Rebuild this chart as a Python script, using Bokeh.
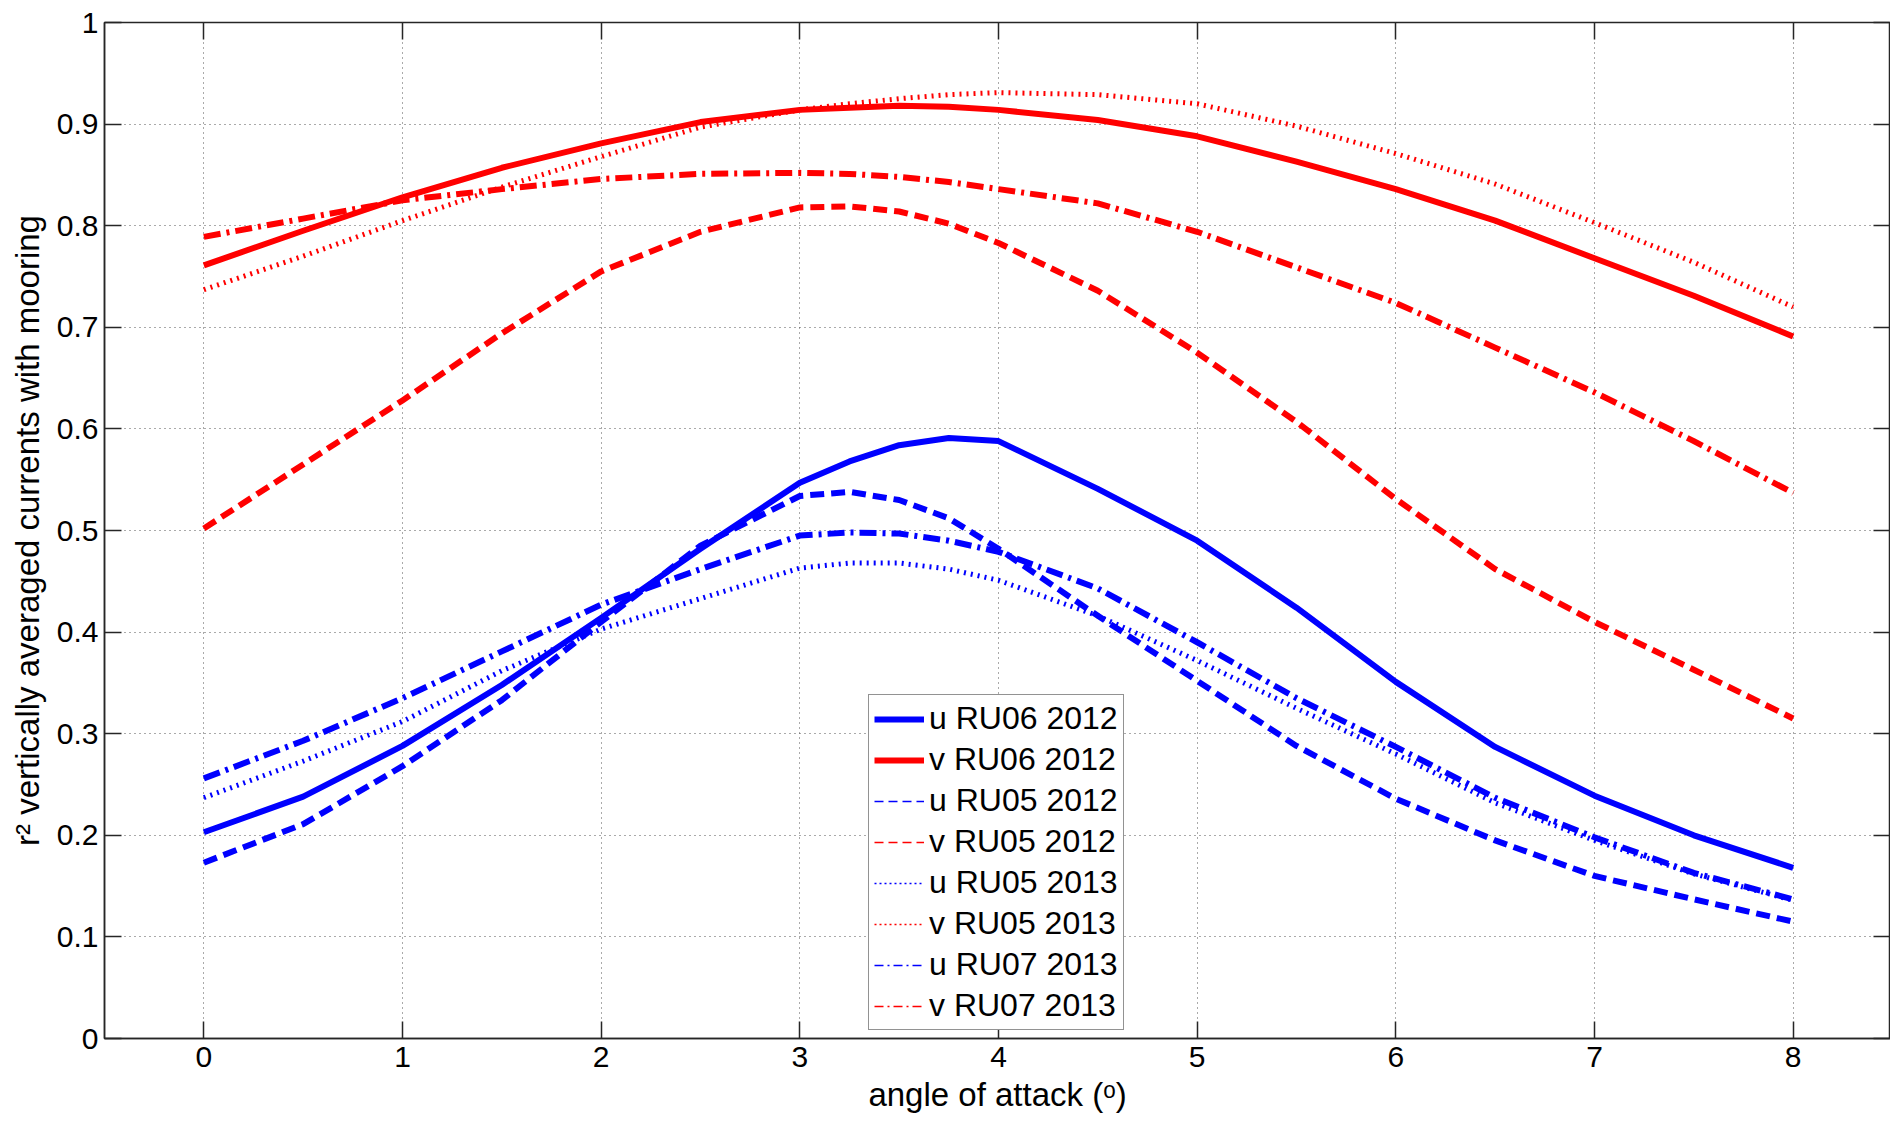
from bokeh.plotting import figure
from bokeh.models import (Range1d, FixedTicker, LinearAxis, Legend, LegendItem,
                          ColumnDataSource, CDSView, IndexFilter)
from bokeh.embed import file_html
from bokeh.resources import INLINE

# ---------------- data ----------------
angle = [0, 0.5, 1, 1.5, 2, 2.5, 3, 3.25, 3.5, 3.75, 4, 4.5, 5, 5.5, 6, 6.5, 7, 7.5, 8]

u_ru06_2012 = [0.203, 0.238, 0.288, 0.348, 0.414, 0.482, 0.547, 0.568, 0.584, 0.591, 0.588, 0.541, 0.490, 0.424, 0.351, 0.287, 0.239, 0.200, 0.168]
v_ru06_2012 = [0.761, 0.795, 0.828, 0.857, 0.881, 0.902, 0.914, 0.916, 0.918, 0.917, 0.914, 0.904, 0.888, 0.863, 0.836, 0.805, 0.768, 0.731, 0.691]
u_ru05_2012 = [0.173, 0.211, 0.268, 0.333, 0.410, 0.485, 0.534, 0.538, 0.530, 0.512, 0.482, 0.416, 0.352, 0.288, 0.236, 0.195, 0.160, 0.137, 0.115]
v_ru05_2012 = [0.502, 0.565, 0.628, 0.694, 0.755, 0.794, 0.818, 0.819, 0.814, 0.802, 0.783, 0.736, 0.675, 0.607, 0.531, 0.462, 0.410, 0.363, 0.315]
u_ru05_2013 = [0.237, 0.273, 0.312, 0.362, 0.403, 0.433, 0.463, 0.468, 0.468, 0.462, 0.451, 0.416, 0.372, 0.325, 0.280, 0.232, 0.195, 0.162, 0.136]
v_ru05_2013 = [0.737, 0.770, 0.805, 0.838, 0.868, 0.897, 0.914, 0.920, 0.925, 0.929, 0.931, 0.929, 0.920, 0.898, 0.871, 0.841, 0.803, 0.764, 0.720]
u_ru07_2013 = [0.256, 0.293, 0.335, 0.381, 0.427, 0.462, 0.495, 0.498, 0.497, 0.490, 0.479, 0.443, 0.390, 0.335, 0.287, 0.237, 0.198, 0.163, 0.137]
v_ru07_2013 = [0.789, 0.807, 0.825, 0.836, 0.846, 0.851, 0.852, 0.851, 0.848, 0.843, 0.836, 0.822, 0.794, 0.759, 0.724, 0.680, 0.636, 0.588, 0.537]

series_labels = ["u RU06 2012", "v RU06 2012", "u RU05 2012", "v RU05 2012",
                 "u RU05 2013", "v RU05 2013", "u RU07 2013", "v RU07 2013"]
series_values = [u_ru06_2012, v_ru06_2012, u_ru05_2012, v_ru05_2012,
                 u_ru05_2013, v_ru05_2013, u_ru07_2013, v_ru07_2013]

x_ticks = [0, 1, 2, 3, 4, 5, 6, 7, 8]
y_ticks = [0, 0.1, 0.2, 0.3, 0.4, 0.5, 0.6, 0.7, 0.8, 0.9, 1]
y_tick_labels = ["0", "0.1", "0.2", "0.3", "0.4", "0.5", "0.6", "0.7", "0.8", "0.9", "1"]

x_label = "angle of attack (\u1d52)"
y_label = "r\u00b2 vertically averaged currents with mooring"

# ---------------- styles ----------------
BLUE = "#0000ff"
RED = "#ff0000"
FONT = "Liberation Sans"
AX = "#262626"

# (color, width, dash) for the plotted curves
plot_styles = [
    (BLUE, 6, "solid"), (RED, 6, "solid"),
    (BLUE, 6, "14 7"), (RED, 6, "14 7"),
    (BLUE, 5, "2 5"), (RED, 5, "2 5"),
    (BLUE, 6, "17 6 3 6"), (RED, 6, "17 6 3 6"),
]
# (color, width, dash) for the legend samples
legend_styles = [
    (BLUE, 6, "solid"), (RED, 6, "solid"),
    (BLUE, 1.5, "9 5"), (RED, 1.5, "9 5"),
    (BLUE, 1.5, "2 3"), (RED, 1.5, "2 3"),
    (BLUE, 1.5, "9 4 2 4"), (RED, 1.5, "9 4 2 4"),
]

p = figure(width=1890, height=1125, output_backend="svg", toolbar_location=None,
           x_range=Range1d(-0.5, 8.49), y_range=Range1d(0, 1),
           min_border_left=104, min_border_right=0, min_border_top=22, min_border_bottom=87)
p.background_fill_color = "white"
p.border_fill_color = "white"
p.outline_line_color = AX
p.outline_line_width = 1.5

# grids
p.xgrid.ticker = FixedTicker(ticks=x_ticks)
p.ygrid.ticker = FixedTicker(ticks=y_ticks)
for g in (p.xgrid, p.ygrid):
    g.grid_line_color = "#555555"
    g.grid_line_dash = "1 4"
    g.grid_line_width = 1

# axes
p.xaxis.ticker = FixedTicker(ticks=x_ticks)
p.yaxis.ticker = FixedTicker(ticks=y_ticks)
p.yaxis.major_label_overrides = {v: s for v, s in zip(y_ticks, y_tick_labels)}
p.xaxis.axis_label = x_label
p.yaxis.axis_label = y_label
for ax in (p.xaxis[0], p.yaxis[0]):
    ax.major_tick_in = 17
    ax.major_tick_out = 0
    ax.minor_tick_in = 0
    ax.minor_tick_out = 0
    ax.axis_line_color = AX
    ax.axis_line_width = 1.5
    ax.major_tick_line_color = AX
    ax.major_tick_line_width = 1.5
    ax.major_label_text_font = FONT
    ax.major_label_text_font_size = "30px"
    ax.major_label_text_color = "black"
    ax.axis_label_text_font = FONT
    ax.axis_label_text_font_size = "33px"
    ax.axis_label_text_font_style = "normal"
    ax.axis_label_text_color = "black"
p.xaxis.major_label_standoff = 8
p.xaxis.axis_label_standoff = 6
p.yaxis.major_label_standoff = 6
p.yaxis.axis_label_standoff = 8

# mirrored tick marks on top and right (no labels)
top_ax = LinearAxis(ticker=FixedTicker(ticks=x_ticks))
right_ax = LinearAxis(ticker=FixedTicker(ticks=y_ticks))
top_ax.major_label_overrides = {t: "" for t in x_ticks}
right_ax.major_label_overrides = {t: "" for t in y_ticks}
for ax in (top_ax, right_ax):
    ax.major_tick_in = 17
    ax.major_tick_out = 0
    ax.minor_tick_in = 0
    ax.minor_tick_out = 0
    ax.major_label_text_font_size = "1px"
    ax.major_label_standoff = 0
    ax.axis_line_color = None
    ax.major_tick_line_color = AX
    ax.major_tick_line_width = 1.5
p.add_layout(top_ax, "above")
p.add_layout(right_ax, "right")

# curves
for vals, (c, w, d) in zip(series_values, plot_styles):
    p.line(angle, vals, line_color=c, line_width=w, line_dash=d, line_cap="butt", line_join="round")

# legend samples: same series, only their first point is kept (so nothing is drawn on the plot)
items = []
for lab, vals, (c, w, d) in zip(series_labels, series_values, legend_styles):
    src = ColumnDataSource(data=dict(x=angle, y=vals))
    view = CDSView(filter=IndexFilter([0]))
    r = p.line("x", "y", source=src, view=view, line_color=c, line_width=w, line_dash=d, line_cap="butt")
    items.append(LegendItem(label=lab, renderers=[r]))

legend = Legend(items=items, location=(764, 8))
legend.border_line_color = AX
legend.border_line_width = 1.5
legend.background_fill_color = "white"
legend.background_fill_alpha = 1
legend.label_text_font = FONT
legend.label_text_font_size = "32px"
legend.label_text_color = "black"
legend.glyph_width = 50
legend.glyph_height = 36
legend.label_height = 36
legend.label_standoff = 5
legend.spacing = 4
legend.padding = 5
legend.margin = 0
p.add_layout(legend)

open("out.html", "w").write(file_html(p, INLINE))
